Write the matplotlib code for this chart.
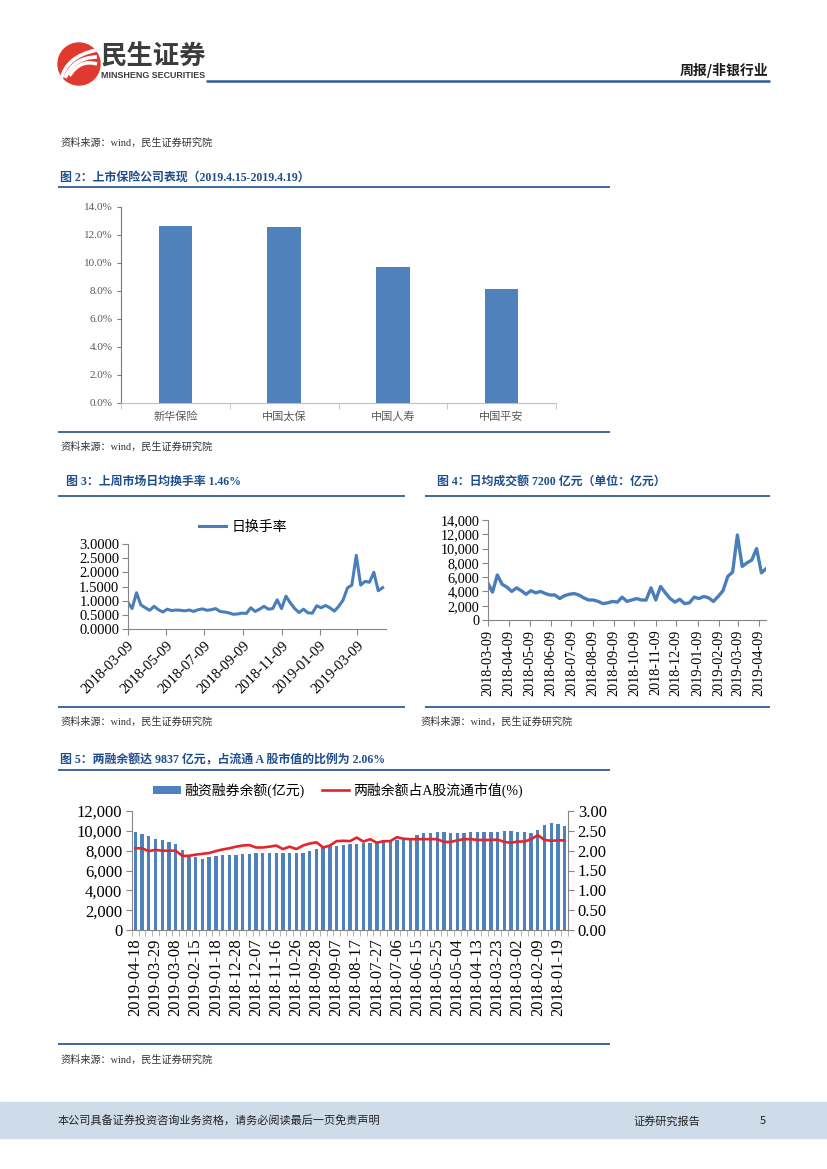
import matplotlib
matplotlib.use('Agg')
import matplotlib.pyplot as plt
from matplotlib.patches import Rectangle, Circle, PathPatch
from matplotlib.path import Path
from matplotlib.ticker import FuncFormatter, MultipleLocator
import pandas as pd
import numpy as np

W, H = 827, 1169
CJK = ['Noto Sans CJK SC', 'DejaVu Sans']
SERIF = ['Liberation Serif', 'Noto Sans CJK SC', 'DejaVu Sans']
plt.rcParams['font.family'] = SERIF

BAR_C = '#4F81BD'
LINE_C = '#4A7EBB'
RED = '#E3262C'
TITLE_C = '#1F4E8C'
RULE_C = '#2E5C9B'
AX_C = '#868686'

# ---------------- data ----------------
ins_names = ['新华保险', '中国太保', '中国人寿', '中国平安']
ins_returns = [12.65, 12.55, 9.75, 8.15]   # %

week_start = '2018-03-09'
turnover = [0.95, 0.72, 1.28, 0.85, 0.75, 0.66, 0.80, 0.68, 0.60, 0.70, 0.65, 0.67, 0.66, 0.64,
            0.67, 0.62, 0.68, 0.71, 0.66, 0.68, 0.72, 0.62, 0.60, 0.57, 0.52, 0.53, 0.56, 0.55,
            0.75, 0.62, 0.70, 0.80, 0.70, 0.72, 1.03, 0.72, 1.16, 0.92, 0.72, 0.58, 0.70, 0.57,
            0.56, 0.82, 0.75, 0.83, 0.75, 0.63, 0.80, 1.02, 1.45, 1.55, 2.60, 1.55, 1.68, 1.65,
            2.00, 1.35, 1.46]
amount = [5200, 3900, 6300, 5000, 4600, 4000, 4500, 4100, 3600, 4100, 3800, 4000, 3700, 3500,
          3500, 3000, 3400, 3600, 3700, 3500, 3100, 2800, 2800, 2600, 2300, 2400, 2600, 2500,
          3200, 2600, 2800, 3000, 2800, 2800, 4500, 2800, 4700, 3800, 3000, 2500, 2900, 2300,
          2400, 3200, 3000, 3300, 3100, 2600, 3300, 4100, 6100, 6700, 11900, 7500, 8000, 8400,
          10000, 6600, 7200]
turn_ticks = ['2018-03-09', '2018-05-09', '2018-07-09', '2018-09-09', '2018-11-09',
              '2019-01-09', '2019-03-09']
amt_ticks = ['2018-03-09', '2018-04-09', '2018-05-09', '2018-06-09', '2018-07-09',
             '2018-08-09', '2018-09-09', '2018-10-09', '2018-11-09', '2018-12-09',
             '2019-01-09', '2019-02-09', '2019-03-09', '2019-04-09']

margin_bal = [9837, 9660, 9460, 9190, 9090, 8860, 8650, 8050, 7410, 7340, 7180, 7410, 7480, 7550,
              7580, 7610, 7650, 7680, 7720, 7750, 7780, 7750, 7720, 7720, 7750, 7750, 7980, 8180,
              8320, 8450, 8520, 8590, 8650, 8720, 8760, 8820, 8820, 8890, 8960, 9060, 9160, 9230,
              9630, 9760, 9830, 9900, 9870, 9830, 9800, 9800, 9900, 9930, 9930, 9930, 9900, 10000,
              9970, 9930, 9870, 9800, 10100, 10570, 10770, 10640, 10470]
margin_ratio = [2.06, 2.06, 1.99, 2.02, 2.00, 2.00, 2.00, 1.87, 1.87, 1.90, 1.92, 1.94, 1.99, 2.03,
                2.06, 2.10, 2.13, 2.14, 2.08, 2.08, 2.10, 2.13, 2.04, 2.10, 2.04, 2.13, 2.18, 2.21,
                2.08, 2.13, 2.24, 2.25, 2.24, 2.33, 2.23, 2.29, 2.20, 2.24, 2.24, 2.34, 2.30, 2.29,
                2.29, 2.29, 2.29, 2.29, 2.22, 2.22, 2.26, 2.29, 2.29, 2.27, 2.27, 2.27, 2.28, 2.22,
                2.20, 2.23, 2.23, 2.29, 2.39, 2.27, 2.25, 2.26, 2.26]
margin_tick_labels = ['2019-04-18', '2019-03-29', '2019-03-08', '2019-02-15', '2019-01-18',
                      '2018-12-28', '2018-12-07', '2018-11-16', '2018-10-26', '2018-09-28',
                      '2018-09-07', '2018-08-17', '2018-07-27', '2018-07-06', '2018-06-15',
                      '2018-05-25', '2018-05-04', '2018-04-13', '2018-03-23', '2018-03-02',
                      '2018-02-09', '2018-01-19']

SRC = '资料来源：wind，民生证券研究院'

# ---------------- figure ----------------
fig = plt.figure(figsize=(W / 100, H / 100), dpi=100)
bg = fig.add_axes([0, 0, 1, 1], zorder=0)
bg.set_xlim(0, W)
bg.set_ylim(H, 0)
bg.axis('off')


def box(x0, y0, x1, y1):
    return [x0 / W, 1 - y1 / H, (x1 - x0) / W, (y1 - y0) / H]


def rule(x0, x1, y, lw=1.3):
    bg.plot([x0, x1], [y, y], color=RULE_C, lw=lw, solid_capstyle='butt')


def src(x, y):
    bg.text(x, y, SRC, fontsize=7.3, color='#333333', va='center', ha='left', family=SERIF)


def title(x, y, s):
    bg.text(x, y, s, fontsize=8.6, color=TITLE_C, fontweight='bold', va='center', ha='left',
            family=SERIF)


# header / logo
bg.add_patch(Circle((79, 64), 21, color='#E03A2F', zorder=2))
for off in [0, 7, 14]:
    verts = [(61 + off * 0.6, 80 - off * 0.3), (66 + off, 56 + off * 0.2), (97, 50 + off)]
    p = Path(verts, [Path.MOVETO, Path.CURVE3, Path.CURVE3])
    bg.add_patch(PathPatch(p, facecolor='none', edgecolor='white', lw=2.6, zorder=3))
bg.text(101, 57, '民生证券', fontsize=19, fontweight='bold', family=CJK, color='#3C3C3C',
        va='center', ha='left')
bg.text(101, 76, 'MINSHENG SECURITIES', fontsize=6.4, fontweight='bold',
        family=['Liberation Sans', 'DejaVu Sans'], color='#3C3C3C', va='center', ha='left')
rule(206, 770, 81, lw=1.8)
bg.text(768, 70, '周报/非银行业', fontsize=10, fontweight='bold', family=CJK, color='#1A1A1A',
        va='center', ha='right')

src(60, 143)

# ---------------- Figure 2: bar chart ----------------
title(60, 178, '图 2：上市保险公司表现（2019.4.15-2019.4.19）')
rule(58, 610, 187)
ax2 = fig.add_axes(box(121, 207, 556, 403))
xi = np.arange(len(ins_names))
ax2.bar(xi, ins_returns, width=0.31, color=BAR_C)
ax2.set_xlim(-0.5, len(ins_names) - 0.5)
ax2.set_ylim(0, 14)
ax2.yaxis.set_major_locator(MultipleLocator(2))
ax2.yaxis.set_major_formatter(FuncFormatter(lambda v, p: f'{v:.1f}%'))
ax2.set_xticks(xi)
ax2.set_xticklabels(ins_names, family=CJK, fontsize=8, color='#595959')
ax2.set_xticks(np.arange(-0.5, len(ins_names)), minor=True)
ax2.tick_params(axis='x', which='major', length=0, pad=6)
ax2.tick_params(axis='x', which='minor', length=4, color='#BFBFBF')
ax2.tick_params(axis='y', length=3, color='#4F81BD', labelsize=8, labelcolor='#595959', pad=3)
for s in ['top', 'right']:
    ax2.spines[s].set_visible(False)
ax2.spines['left'].set_color('#4F81BD')
ax2.spines['bottom'].set_color('#BFBFBF')
ax2.patch.set_alpha(0)
rule(58, 610, 432)
src(60, 447)

# ---------------- Figure 3: turnover rate ----------------
title(66, 482, '图 3：上周市场日均换手率 1.46%')
rule(58, 405, 496)
dates = pd.date_range(week_start, periods=len(turnover), freq='7D')
ax3 = fig.add_axes(box(127.7, 544, 386.4, 629))
ax3.plot(dates, turnover, color=LINE_C, lw=2.2, label='日换手率', solid_joinstyle='round')
ax3.set_xlim(pd.Timestamp('2018-03-09'), pd.Timestamp('2019-04-25'))
ax3.set_ylim(0, 3)
ax3.yaxis.set_major_locator(MultipleLocator(0.5))
ax3.yaxis.set_major_formatter(FuncFormatter(lambda v, p: f'{v:.4f}'))
ax3.set_xticks(pd.to_datetime(turn_ticks))
ax3.set_xticklabels(turn_ticks, rotation=45, ha='right', rotation_mode='anchor', fontsize=10.5)
ax3.tick_params(axis='y', labelsize=10.5, length=4, color=AX_C, pad=2)
ax3.tick_params(axis='x', length=4, color=AX_C, pad=3)
for s in ['top', 'right']:
    ax3.spines[s].set_visible(False)
for s in ['left', 'bottom']:
    ax3.spines[s].set_color(AX_C)
ax3.patch.set_alpha(0)
ax3.legend(loc='center', bbox_to_anchor=(243 / W, 1 - 527 / H), bbox_transform=fig.transFigure,
           frameon=False, prop={'family': CJK, 'size': 10}, handlelength=2.0, handletextpad=0.4)
rule(58, 405, 707)
src(60, 722)

# ---------------- Figure 4: turnover amount ----------------
title(437, 482, '图 4：日均成交额 7200 亿元（单位：亿元）')
rule(425, 770, 496)
dates4 = pd.date_range(week_start, periods=len(amount), freq='7D')
ax4 = fig.add_axes(box(487.7, 520, 766.2, 620))
ax4.plot(dates4, amount, color=LINE_C, lw=2.4, solid_joinstyle='round')
ax4.set_xlim(pd.Timestamp('2018-03-09'), pd.Timestamp('2019-04-19'))
ax4.set_ylim(0, 14000)
ax4.yaxis.set_major_locator(MultipleLocator(2000))
ax4.yaxis.set_major_formatter(FuncFormatter(lambda v, p: f'{v:,.0f}'))
ax4.set_xticks(pd.to_datetime(amt_ticks))
ax4.set_xticklabels(amt_ticks, rotation=90, ha='center', va='top', fontsize=10.3)
ax4.tick_params(axis='y', labelsize=10.3, length=4, color=AX_C, pad=2)
ax4.tick_params(axis='x', length=4, color=AX_C, pad=3)
for s in ['top', 'right']:
    ax4.spines[s].set_visible(False)
for s in ['left', 'bottom']:
    ax4.spines[s].set_color(AX_C)
ax4.patch.set_alpha(0)
rule(425, 770, 707)
src(420, 722)

# ---------------- Figure 5: margin balance ----------------
title(60, 760, '图 5：两融余额达 9837 亿元，占流通 A 股市值的比例为 2.06%')
rule(58, 610, 770)
ax5 = fig.add_axes(box(132, 811, 568, 930))
idx = np.arange(len(margin_bal))
ax5.bar(idx, margin_bal, width=0.5, color=BAR_C, label='融资融券余额(亿元)')
ax5.set_xlim(-0.5, len(idx) - 0.5)
ax5.set_ylim(0, 12000)
ax5.yaxis.set_major_locator(MultipleLocator(2000))
ax5.yaxis.set_major_formatter(FuncFormatter(lambda v, p: f'{v:,.0f}'))
ax5.set_xticks(idx[::3][:len(margin_tick_labels)])
ax5.set_xticklabels(margin_tick_labels, rotation=90, ha='center', va='top', fontsize=12)
ax5.set_xticks(np.arange(-0.5, len(idx)), minor=True)
ax5.tick_params(axis='x', which='major', length=0, pad=6)
ax5.tick_params(axis='x', which='minor', length=4, color='#A6A6A6')
ax5.tick_params(axis='y', labelsize=12, length=4, color=AX_C, pad=3)
for s in ['top', 'right']:
    ax5.spines[s].set_visible(False)
for s in ['left', 'bottom']:
    ax5.spines[s].set_color(AX_C)
ax5.patch.set_alpha(0)

ax5r = ax5.twinx()
ax5r.plot(idx, margin_ratio, color=RED, lw=1.9, label='两融余额占A股流通市值(%)',
          solid_joinstyle='round')
ax5r.set_ylim(0, 3)
ax5r.yaxis.set_major_locator(MultipleLocator(0.5))
ax5r.yaxis.set_major_formatter(FuncFormatter(lambda v, p: f'{v:.2f}'))
ax5r.tick_params(axis='y', labelsize=12, length=4, color=AX_C, pad=3)
for s in ['top', 'left', 'bottom']:
    ax5r.spines[s].set_visible(False)
ax5r.spines['right'].set_color(AX_C)

h1, l1 = ax5.get_legend_handles_labels()
h2, l2 = ax5r.get_legend_handles_labels()
ax5r.legend(h1 + h2, l1 + l2, loc='center', ncol=2, bbox_to_anchor=(338 / W, 1 - 790 / H),
            bbox_transform=fig.transFigure, frameon=False, prop={'family': SERIF, 'size': 10},
            handlelength=2.0, handleheight=0.5, handletextpad=0.3, columnspacing=1.2)
rule(58, 610, 1044)
src(60, 1060)

# ---------------- footer ----------------
bg.add_patch(Rectangle((0, 1102), W, 36, color='#CEDBE9', zorder=1))
bg.text(58, 1121, '本公司具备证券投资咨询业务资格，请务必阅读最后一页免责声明', fontsize=8,
        family=CJK, color='#222222', va='center', ha='left', zorder=3)
bg.text(633, 1121, '证券研究报告', fontsize=8, family=CJK, color='#222222', va='center',
        ha='left', zorder=3)
bg.text(760, 1121, '5', fontsize=8, family=CJK, color='#222222', va='center', ha='left', zorder=3)

fig.savefig('out.png', dpi=100)
